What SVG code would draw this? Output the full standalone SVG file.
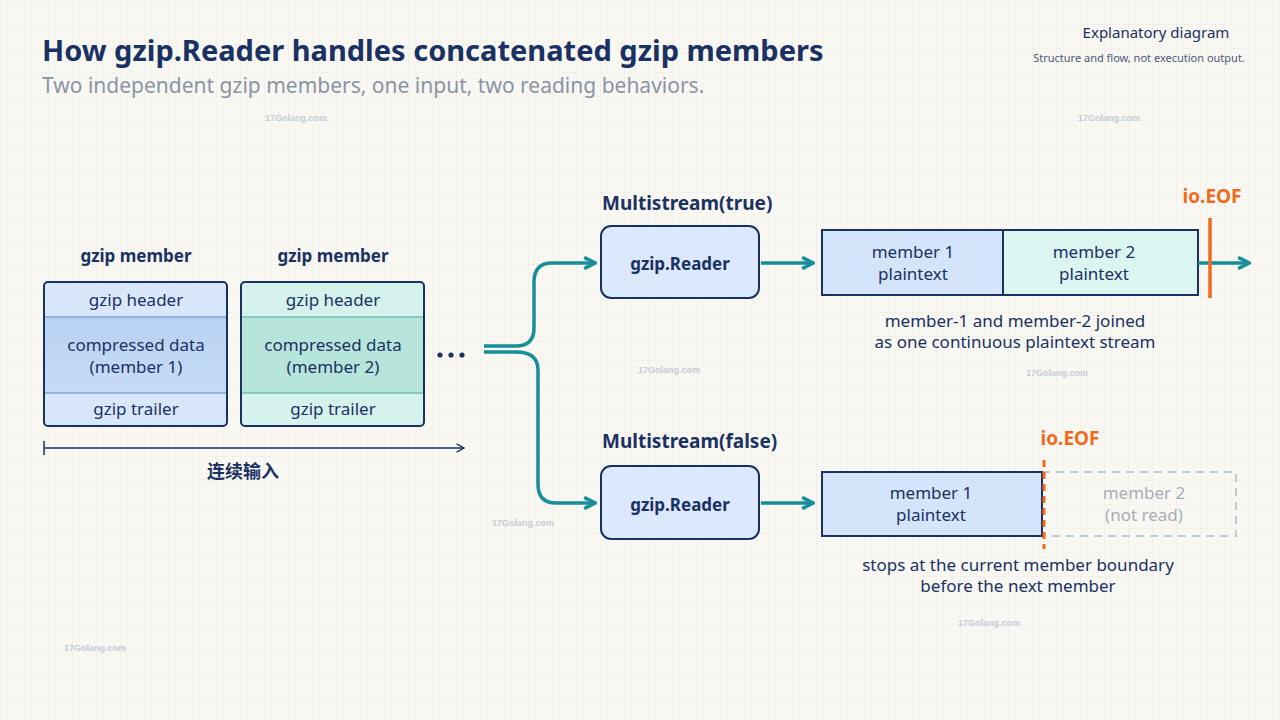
<svg xmlns="http://www.w3.org/2000/svg" width="1280" height="720" viewBox="0 0 1280 720">
<defs>
<pattern id="grid" width="24" height="24" patternUnits="userSpaceOnUse"><path d="M24 0H0V24" fill="none" stroke="#ebeae4" stroke-width="1"/></pattern>
<marker id="ah" viewBox="0 0 10 10" refX="8" refY="5" markerWidth="4" markerHeight="4" orient="auto"><path d="M1 1L9 5L1 9" fill="none" stroke="#178f9a" stroke-width="2.5" stroke-linejoin="round"/></marker>
<marker id="ak" viewBox="0 0 10 10" refX="9" refY="5" markerWidth="7" markerHeight="7" orient="auto"><path d="M2 1L9 5L2 9" fill="none" stroke="#1a3163" stroke-width="1.3"/></marker>
<linearGradient id="g1" x1="0" y1="0" x2="0" y2="1"><stop offset="0" stop-color="#b9d2f2"/><stop offset="1" stop-color="#c6dbf6"/></linearGradient>
</defs>
<style>
text{font-family:"Noto Sans","Open Sans","Liberation Sans",sans-serif;fill:#1a3163}
.t{font-size:17px;text-anchor:middle}
.b{font-weight:bold}
.box{stroke:#1a3163;stroke-width:2}
.sep1{stroke:#7fa5d6;stroke-width:1.5}
.sep2{stroke:#6fc2b8;stroke-width:1.5}
.con{fill:none;stroke:#178f9a;stroke-width:3.5;marker-end:url(#ah)}
.wm{font-size:9px;fill:#b8c4cf;font-family:"Liberation Sans",sans-serif;font-weight:bold}
.eof{fill:#f26b1d;font-weight:bold;font-size:19px;text-anchor:middle}
</style>
<rect width="1280" height="720" fill="#f8f7f2"/>
<rect width="1280" height="720" fill="url(#grid)"/>
<g id="watermarks" opacity="0.8">
<text class="wm" x="265" y="121">17Golang.com</text>
<text class="wm" x="1078" y="121">17Golang.com</text>
<text class="wm" x="278" y="331">17Golang.com</text>
<text class="wm" x="638" y="373">17Golang.com</text>
<text class="wm" x="1026" y="376">17Golang.com</text>
<text class="wm" x="492" y="526">17Golang.com</text>
<text class="wm" x="958" y="626">17Golang.com</text>
<text class="wm" x="64" y="651">17Golang.com</text>
</g>
<g id="header">
<text x="42" y="61" font-size="29" class="b">How gzip.Reader handles concatenated gzip members</text>
<text x="42" y="93" font-size="21" style="fill:#8a94a6">Two independent gzip members, one input, two reading behaviors.</text>
<text x="1156" y="38" font-size="15" text-anchor="middle">Explanatory diagram</text>
<text x="1139" y="62" font-size="11" text-anchor="middle" style="fill:#4a5a78">Structure and flow, not execution output.</text>
</g>
<g id="member1">
<text class="t b" x="136" y="262" font-size="19">gzip member</text>
<rect x="44" y="282" width="183" height="144" rx="4" fill="#d9e7fb"/>
<rect x="44" y="317" width="183" height="76" fill="url(#g1)"/>
<line class="sep1" x1="44" y1="317" x2="227" y2="317"/><line class="sep1" x1="44" y1="393" x2="227" y2="393"/>
<rect class="box" x="44" y="282" width="183" height="144" rx="4" fill="none"/>
<text class="t" x="136" y="306">gzip header</text>
<text class="t" x="136" y="351">compressed data</text>
<text class="t" x="136" y="373">(member 1)</text>
<text class="t" x="136" y="415">gzip trailer</text>
</g>
<g id="member2">
<text class="t b" x="333" y="262" font-size="19">gzip member</text>
<rect x="241" y="282" width="183" height="144" rx="4" fill="#d5f2ec"/>
<rect x="241" y="317" width="183" height="76" fill="#b7e5dc"/>
<line class="sep2" x1="241" y1="317" x2="424" y2="317"/><line class="sep2" x1="241" y1="393" x2="424" y2="393"/>
<rect class="box" x="241" y="282" width="183" height="144" rx="4" fill="none"/>
<text class="t" x="333" y="306">gzip header</text>
<text class="t" x="333" y="351">compressed data</text>
<text class="t" x="333" y="373">(member 2)</text>
<text class="t" x="333" y="415">gzip trailer</text>
</g>
<g id="dots" fill="#1a3163"><circle cx="440" cy="355" r="2.6"/><circle cx="451" cy="355" r="2.6"/><circle cx="462" cy="355" r="2.6"/></g>
<g id="axis">
<line x1="44" y1="448" x2="464" y2="448" stroke="#1a3163" stroke-width="1.5" marker-end="url(#ak)"/>
<line x1="44" y1="441" x2="44" y2="455" stroke="#1a3163" stroke-width="1.5"/>
<text x="243" y="478" font-size="18" text-anchor="middle" class="b" style="font-family:'Noto Sans CJK SC',sans-serif">连续输入</text>
</g>
<g id="readerTrue">
<text x="602" y="210" font-size="19" class="b">Multistream(true)</text>
<rect class="box" x="601" y="226" width="158" height="72" rx="10" fill="#dce8fb"/>
<text class="t b" x="680" y="270" font-size="21">gzip.Reader</text>
</g>
<g id="readerFalse">
<text x="602" y="448" font-size="19" class="b">Multistream(false)</text>
<rect class="box" x="601" y="466" width="158" height="73" rx="10" fill="#dce8fb"/>
<text class="t b" x="680" y="511" font-size="21">gzip.Reader</text>
</g>
<g id="outTrue">
<rect x="822" y="230" width="181" height="65" fill="#d4e4fa"/>
<rect x="1003" y="230" width="195" height="65" fill="#dbf5f1"/>
<rect class="box" x="822" y="230" width="376" height="65" fill="none"/>
<line class="box" x1="1003" y1="230" x2="1003" y2="295"/>
<text class="t" x="913" y="258">member 1</text><text class="t" x="913" y="280">plaintext</text>
<text class="t" x="1094" y="258">member 2</text><text class="t" x="1094" y="280">plaintext</text>
<text class="t" x="1015" y="327">member-1 and member-2 joined</text>
<text class="t" x="1015" y="348">as one continuous plaintext stream</text>
</g>
<g id="outFalse">
<rect x="1042" y="472" width="194" height="64" fill="none" stroke="#c4c8cf" stroke-width="2" stroke-dasharray="8 6"/>
<rect class="box" x="822" y="472" width="220" height="64" fill="#d4e4fa"/>
<text class="t" x="931" y="499">member 1</text><text class="t" x="931" y="521">plaintext</text>
<text class="t" x="1144" y="499" style="fill:#a8aeb8">member 2</text><text class="t" x="1144" y="521" style="fill:#a8aeb8">(not read)</text>
<text class="t" x="1018" y="571">stops at the current member boundary</text>
<text class="t" x="1018" y="592">before the next member</text>
</g>
<g id="connectors">
<path class="con" d="M484 346H516Q534 346 534 328V282Q534 263 552 263H594"/>
<path class="con" d="M484 352H516Q538 352 538 370V484Q538 503 556 503H594"/>
<path class="con" d="M761 263H812"/>
<path class="con" d="M761 503H812"/>
<path class="con" d="M1198 263H1248"/>
</g>
<g id="eof">
<line x1="1210" y1="218" x2="1210" y2="298" stroke="#f26b1d" stroke-width="3.5"/>
<text class="eof" x="1212" y="203">io.EOF</text>
<line x1="1044" y1="460" x2="1044" y2="549" stroke="#f26b1d" stroke-width="3" stroke-dasharray="7 5"/>
<text class="eof" x="1070" y="445">io.EOF</text>
</g>
</svg>
